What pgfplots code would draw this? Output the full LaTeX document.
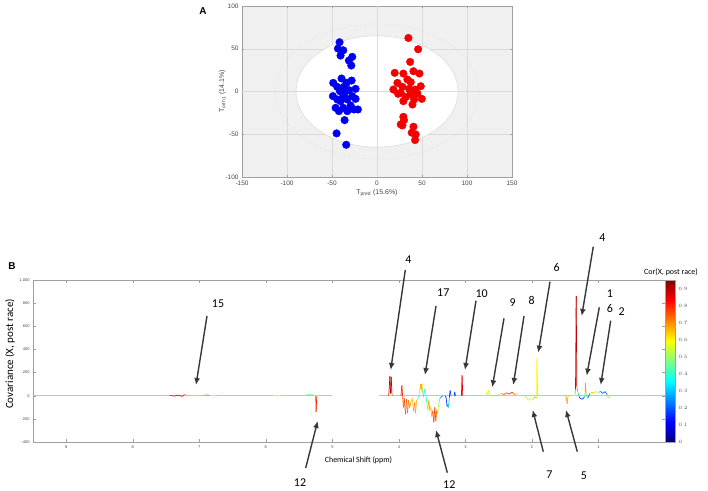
\documentclass[border=0pt]{standalone}
\usepackage{fontspec}
\setmainfont{Liberation Sans}
\newfontfamily\calib{Carlito}
\usepackage{pgfplots}
\pgfplotsset{compat=1.18}
\usetikzlibrary{arrows.meta}

\definecolor{bgA}{RGB}{240,240,240}
\definecolor{gridc}{RGB}{218,218,218}
\definecolor{axc}{RGB}{160,160,160}
\definecolor{arrowc}{RGB}{55,55,55}
\definecolor{blueP}{RGB}{0,0,240}
\definecolor{redP}{RGB}{245,0,0}
\definecolor{tickt}{RGB}{70,70,70}
\definecolor{basec}{RGB}{186,192,240}
\pgfplotsset{feat/.style={mesh, point meta=explicit, line width=0.7pt}}

\begin{document}
\begin{tikzpicture}
\useasboundingbox (0bp,-491bp) rectangle (708bp,0bp);

% ---------------- Panel A ----------------
\begin{axis}[
  name=A, at={(242bp,-177bp)}, anchor=south west,
  scale only axis, width=270bp, height=171bp,
  xmin=-150, xmax=150, ymin=-100, ymax=100,
  xtick={-150,-100,...,150}, ytick={-100,-50,...,100},
  grid=major, grid style={gridc, line width=0.4pt},
  axis background/.style={fill=bgA},
  axis line style={axc, line width=0.5pt},
  tick style={axc}, tick align=inside, major tick length=2bp,
  ticklabel style={font=\fontsize{6.5}{7}\selectfont, text=tickt},
  /pgf/number format/assume math mode=true,
  xlabel={T\textsubscript{pred} (15.6\%)},
  ylabel={T\textsubscript{orth1} (14.1\%)},
  label style={font=\fontsize{7}{8}\selectfont, text=tickt},
  xlabel style={yshift=3bp}, ylabel style={yshift=-7bp},
]
\draw[gridc!70, line width=0.4pt, densely dashed] (axis cs:0,0) ellipse [x radius=113, y radius=79];
\draw[fill=white, draw=gridc, line width=0.5pt] (axis cs:0,0) ellipse [x radius=90, y radius=65];
\draw[gridc, line width=0.6pt] (axis cs:-150,0) -- (axis cs:150,0);
\draw[gridc, line width=0.6pt] (axis cs:0,-100) -- (axis cs:0,100);
\addplot[only marks, mark=*, mark size=3.8bp, mark options={draw=blueP, fill=blueP}] coordinates {
(-41.6,57.6) (-43.4,50.2) (-37.5,48.2) (-40.5,42.0) (-27.5,40.5) (-31.2,36.2) (-28.6,30.4)
(-39.4,15.2) (-48.6,10.1) (-28.2,12.8) (-33.8,10.1) (-44.2,5.4) (-36.8,5.4) (-23.8,3.1)
(-41.2,0.4) (-31.2,1.6) (-49,-5.4) (-37.5,-5.4) (-27.5,-5.4) (-23.8,-8.6) (-44.2,-9.3)
(-33,-9.3) (-40.5,-11.3) (-29.3,-16.3) (-46,-19.1) (-37.5,-19.1) (-21.2,-21.0) (-42.3,-23)
(-33,-23) (-36,-33.5) (-44.9,-49) (-34.2,-62.3) (-25.6,-21) (-36,-1.6)
};
\addplot[only marks, mark=*, mark size=3.8bp, mark options={draw=redP, fill=redP}] coordinates {
(34.9,62.6) (45.7,49.4) (36.8,34.6) (19.7,21.8) (29.3,21) (40.5,23.7) (47.2,21)
(33.8,14) (22.7,10.1) (37.5,10.9) (28.2,5.4) (48.6,6.2) (18.2,2.3) (35.6,3.1)
(42.3,2.3) (26.4,-1.6) (23.4,-2.7) (36.8,-3.5) (44.9,-2.3) (31.9,-6.6) (49.8,-8.6)
(41.2,-9.3) (29.3,-11.3) (39.4,-15.2) (29.3,-29.6) (28.2,-39.7) (40.5,-41.2)
(38.6,-48.2) (43,-50.2) (42.3,-56.8) (30,-33.5) (26.4,-38.5)
};
\end{axis}

% ---------------- Panel B ----------------
\begin{axis}[
  name=B, at={(33bp,-442bp)}, anchor=south west,
  scale only axis, width=632bp, height=162bp,
  x dir=reverse, xmin=0, xmax=9.5, ymin=-400, ymax=1000,
  xtick={1,...,9}, ytick={-400,-200,...,1000},
  axis line style={axc, line width=0.5pt},
  tick style={axc}, tick align=inside, major tick length=3bp,
  ticklabel style={font=\fontsize{4}{5}\selectfont, text=tickt},
  /pgf/number format/assume math mode=true,
  colormap/jet, point meta min=0, point meta max=0.95,
  colorbar,
  colorbar style={
    at={(1,1)}, anchor=north west, xshift=4bp,
    scale only axis, width=10bp, height=162bp,
    ytick={0,0.1,0.2,0.3,0.4,0.5,0.6,0.7,0.8,0.9},
    yticklabel style={font=\fontsize{3.5}{4}\selectfont, text=tickt},
    axis line style={axc, line width=0.3pt},
    major tick length=0pt,
  },
]
% baseline of the spectrum (low correlation, pale)
\addplot[color=basec, no marks, line width=1pt] coordinates {(9.5,0) (5.0,0)};
\addplot[color=basec, no marks, line width=1pt] coordinates {(4.3,0) (0.0,0)};
% coloured features
\addplot[feat] table[meta=c] {
x y c
7.50 0 0.5
7.44 3 0.8
7.38 -3 0.8
7.32 5 0.85
7.26 -5 0.8
7.22 10 0.85
7.18 0 0.5
};
\addplot[feat] table[meta=c] {
x y c
6.95 0 0.5
6.89 8 0.85
6.85 0 0.6
6.80 2 0.62
6.75 0 0.5
};
\addplot[feat] table[meta=c] {
x y c
5.88 0 0.6
5.85 3 0.6
5.80 2 0.6
5.78 0 0.6
};
\addplot[feat] table[meta=c] {
x y c
5.42 0 0.45
5.38 8 0.45
5.32 10 0.45
5.28 5 0.5
5.25 0 0.7
5.245 -140 0.85
5.235 -5 0.75
5.20 0 0.4
};
\addplot[feat] table[meta=c] {
x y c
4.16 0 0.7
4.15 20 0.85
4.135 170 0.9
4.125 20 0.88
4.115 160 0.9
4.105 15 0.85
4.09 0 0.6
};
\addplot[feat] table[meta=c] {
x y c
3.97 0 0.7
3.955 90 0.88
3.945 0 0.75
3.93 -100 0.75
3.92 -20 0.75
3.90 -160 0.78
3.885 -30 0.72
3.87 -150 0.75
3.855 -40 0.7
3.84 -100 0.72
3.82 -60 0.7
3.80 -20 0.55
3.78 -130 0.72
3.765 -60 0.7
3.75 -150 0.75
3.735 -40 0.6
3.72 -30 0.5
3.70 0 0.3
3.685 40 0.7
3.675 100 0.65
3.665 50 0.7
3.655 105 0.68
3.645 40 0.6
3.63 -10 0.2
3.61 60 0.5
3.595 0 0.55
3.58 -60 0.2
3.565 -120 0.72
3.55 -40 0.6
3.535 -130 0.75
3.52 -100 0.55
3.505 -180 0.75
3.49 -130 0.7
3.475 -230 0.8
3.46 -100 0.75
3.445 -220 0.75
3.43 -120 0.72
3.415 -150 0.6
3.40 -60 0.45
3.38 -20 0.3
3.34 0 0.2
};
\addplot[feat] table[meta=c] {
x y c
3.30 0 0.15
3.29 -20 0.15
3.275 -95 0.2
3.265 -70 0.3
3.255 -100 0.45
3.24 -10 0.15
3.23 45 0.15
3.215 0 0.2
};
\addplot[feat] table[meta=c] {
x y c
3.17 0 0.15
3.16 30 0.15
3.15 0 0.2
};
\addplot[feat] table[meta=c] {
x y c
3.06 0 0.8
3.05 175 0.9
3.04 0 0.8
};
\addplot[feat] table[meta=c] {
x y c
2.70 0 0.5
2.68 30 0.6
2.665 10 0.55
2.65 45 0.62
2.635 5 0.6
2.60 0 0.4
2.50 5 0.4
2.46 20 0.75
2.42 10 0.7
2.38 25 0.78
2.34 15 0.75
2.30 30 0.8
2.26 10 0.7
2.23 20 0.65
2.20 0 0.4
};
\addplot[feat] table[meta=c] {
x y c
2.10 0 0.45
2.08 -20 0.5
2.05 -40 0.6
2.02 -20 0.55
1.99 -35 0.6
1.96 -10 0.3
1.935 -20 0.45
1.93 -10 0.55
1.925 320 0.64
1.915 10 0.58
1.90 0 0.3
};
\addplot[feat] table[meta=c] {
x y c
1.50 0 0.6
1.48 -20 0.7
1.47 -70 0.72
1.46 -10 0.6
1.44 0 0.5
};
\addplot[feat] table[meta=c] {
x y c
1.36 0 0.5
1.35 20 0.6
1.345 60 0.8
1.335 860 0.92
1.325 80 0.86
1.315 40 0.6
1.30 20 0.4
1.29 -10 0.2
1.27 -25 0.12
1.24 -30 0.15
1.21 -10 0.2
1.20 30 0.65
1.195 110 0.78
1.185 10 0.6
1.16 -20 0.15
1.13 20 0.3
1.10 30 0.8
1.07 20 0.5
1.04 35 0.75
1.00 25 0.4
0.97 40 0.3
0.94 20 0.15
0.90 35 0.25
0.87 10 0.2
0.85 -20 0.6
0.82 0 0.5
};
\addplot[feat] table[meta=c] {
x y c
0.32 0 0.55
0.30 5 0.55
0.28 0 0.55
};
\end{axis}

% ---------------- Labels and annotations ----------------
\begin{scope}[x=1bp, y=1bp]
\node[font=\fontsize{10}{12}\selectfont\bfseries] at (203,-11) {A};
\node[font=\fontsize{10}{12}\selectfont\bfseries] at (12,-266) {B};
\node[font=\calib\fontsize{11}{13}\selectfont, rotate=90] at (10,-354) {Covariance (X, post race)};
\node[font=\calib\fontsize{8}{10}\selectfont] at (358.5,-460) {Chemical Shift (ppm)};
\node[font=\calib\fontsize{8}{10}\selectfont] at (671,-272) {Cor(X, post race)};

\begin{scope}[arrowc, line width=1.4bp, -{Latex[length=7bp, width=6bp]}]
\draw (207,-316) -- (196,-385);
\draw (305.7,-468) -- (317.7,-421);
\draw (405.3,-270) -- (390.7,-370);
\draw (436,-306) -- (425,-375);
\draw (476,-300.7) -- (465,-370);
\draw (504,-318.3) -- (492.3,-387.3);
\draw (524,-316) -- (513.3,-385);
\draw (550,-281.7) -- (538.3,-352.7);
\draw (593.3,-246.7) -- (581.7,-316);
\draw (599.3,-307.3) -- (586.7,-375.7);
\draw (610.7,-320.7) -- (600.7,-385);
\draw (543.3,-451.7) -- (532.7,-410);
\draw (577.3,-451.7) -- (566,-410);
\draw (447.3,-472.7) -- (436,-430);
\end{scope}

\begin{scope}[font=\calib\fontsize{12}{14}\selectfont]
\node at (218,-304) {15};
\node at (300,-483) {12};
\node at (408.3,-260) {4};
\node at (443.3,-292.7) {17};
\node at (481.7,-293.3) {10};
\node at (512.7,-302.7) {9};
\node at (531.7,-300.7) {8};
\node at (556.7,-267.3) {6};
\node at (602.3,-237.3) {4};
\node at (610,-294) {1};
\node at (610,-309) {6};
\node at (621.7,-312) {2};
\node at (549.3,-475) {7};
\node at (584,-476) {5};
\node at (449.3,-485) {12};
\end{scope}
\end{scope}
\end{tikzpicture}
\end{document}
